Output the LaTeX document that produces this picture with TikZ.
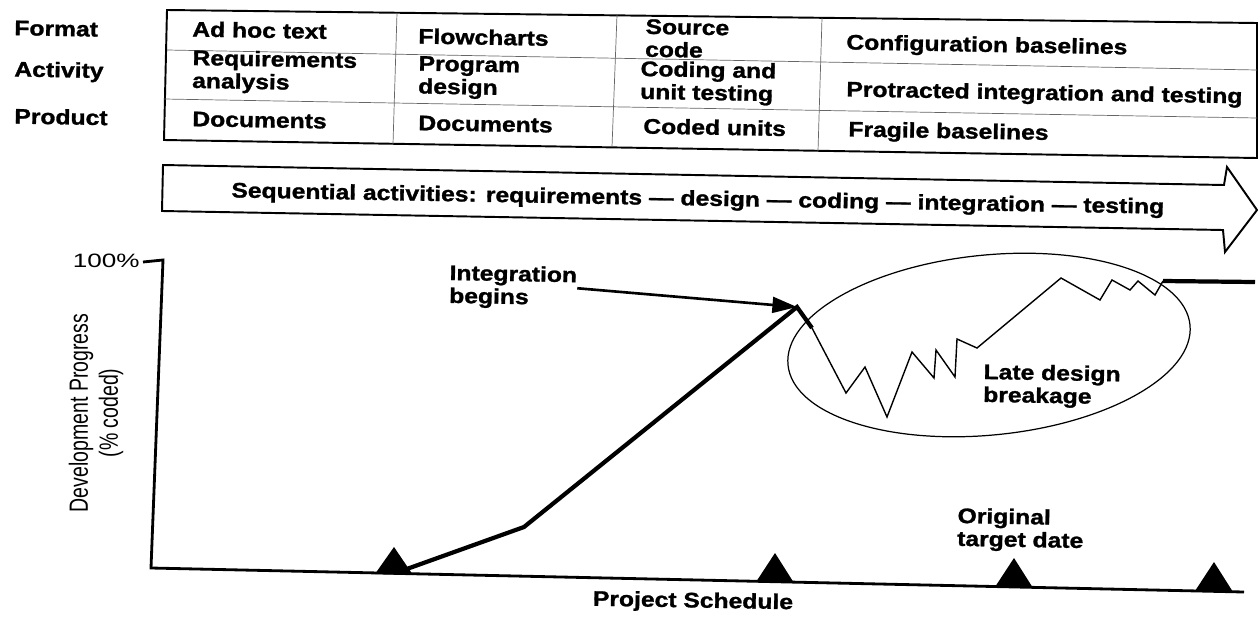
\documentclass[tikz,border=0pt]{standalone}
\usepackage{fontspec}
\setmainfont{Liberation Sans}[BoldFeatures={FakeBold=1.2}]
\usetikzlibrary{arrows.meta}
\newcommand{\lblfont}{\fontsize{12}{13}\selectfont\bfseries}

\begin{document}
\begin{tikzpicture}[x=0.02cm,y=-0.02cm,
    txt/.style={font=\lblfont,anchor=west,align=left,inner sep=0pt,rotate=-1,xscale=1.17},
    gridline/.style={line width=0.4pt,black!60},
    progress/.style={line width=2.4pt,line join=miter},
    zig/.style={line width=0.8pt}]
  \useasboundingbox (0,0) rectangle (1258,616);
  % row labels
  \node[txt] (fmt) at (14,28) {Format};
  \node[txt] (act) at (14,71) {Activity};
  \node[txt] (prd) at (14,116) {Product};
  % table
  \draw[line width=1.1pt] (167,10) -- (1257,23) -- (1257,158) -- (164,140) -- cycle;
  \draw[gridline] (167,50) -- (1257,70);
  \draw[gridline] (164,99) -- (1257,118);
  \draw[gridline] (397,13) -- (393,144);
  \draw[gridline] (617,15) -- (612,147);
  \draw[gridline] (822,18) -- (818,151);
  \node[txt] (adhoc) at (192,29) {Ad hoc text};
  \node[txt] (reqan) at (192,71) {Requirements\\analysis};
  \node[txt] (docs1) at (192,119) {Documents};
  \node[txt] (flow)  at (418,36) {Flowcharts};
  \node[txt] (progd) at (418,77) {Program\\design};
  \node[txt] (docs2) at (418,123) {Documents};
  \node[txt] (src)   at (645,38) {Source\\code};
  \node[txt] (codut) at (640,82) {Coding and\\unit testing};
  \node[txt] (coded) at (643,126) {Coded units};
  \node[txt] (cfgb)  at (846,44) {Configuration baselines};
  \node[txt] (proti) at (846,91) {Protracted integration and testing};
  \node[txt] (fragb) at (848,131) {Fragile baselines};
  % big arrow
  \draw[line width=1.1pt,line join=miter] (163,165) -- (1224,185) -- (1227,167) -- (1257,210)
     -- (1225,252) -- (1223,230) -- (162,211) -- cycle;
  \node[txt] (seq) at (231,192) {Sequential activities: requirements --- design --- coding --- integration --- testing};
  % axes
  \draw[line width=1.6pt,line join=miter] (143,262) -- (163,260) -- (151,568) -- (1244,592);
  \node[font=\fontsize{11}{11}\selectfont,anchor=east,inner sep=0pt,xscale=1.35] (full) at (140,261) {100\%};
  \node[font=\fontsize{15}{17}\selectfont,align=center,inner sep=0pt,rotate=90,xscale=0.74] (ylab) at (96,413)
     {Development Progress\\(\% coded)};
  \node[txt,anchor=center] (xlab) at (693,602) {Project Schedule};
  % milestones
  \fill (375,574) -- (394,547) -- (413,575) -- cycle;
  \fill (756,582) -- (775,553) -- (794,583) -- cycle;
  \fill (995,587) -- (1014,558) -- (1033,588) -- cycle;
  \fill (1195,591) -- (1214,562) -- (1233,592) -- cycle;
  % progress curve
  \coordinate (peak) at (797,307);
  \draw[progress] (404,570) -- (524,527) -- (peak) -- (812,328);
  \draw[zig] (812,328) -- (846,393) -- (865,367) -- (887,417) -- (912,352) -- (934,378)
     -- (936,350) -- (955,377) -- (957,339) -- (977,348) -- (1061,278) -- (1100,300)
     -- (1112,280) -- (1130,290) -- (1138,281) -- (1155,295) -- (1163,281);
  \draw[progress] (1163,281) -- (1255,282);
  \draw[line width=0.7pt,rotate around={5.7:(989,345)}] (989,345) ellipse [x radius=202,y radius=90];
  % labels on the chart
  \node[txt] (intg) at (449,286) {Integration\\begins};
  \draw[line width=1.5pt,-{Triangle[length=14pt,width=9pt]}] (intg.east) -- (peak);
  \node[txt] (late) at (983,385) {Late design\\breakage};
  \node[txt] (orig) at (957,529) {Original\\target date};
\end{tikzpicture}
\end{document}
